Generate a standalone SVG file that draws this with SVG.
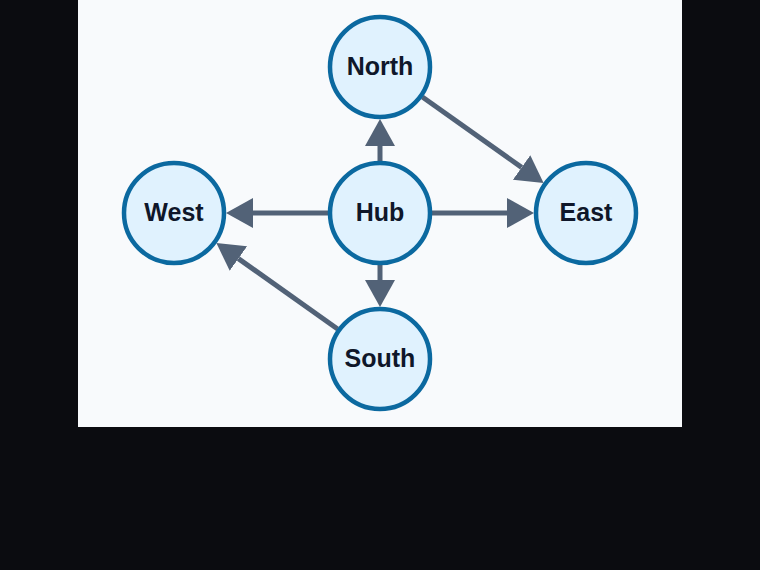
<svg xmlns="http://www.w3.org/2000/svg" width="760" height="570" viewBox="0 0 760 570">
<defs>
<style>
.node circle{fill:#e0f2fe;stroke:#0b69a0;stroke-width:4.5}
.node text{font-family:"Liberation Sans",Arial,sans-serif;font-weight:bold;font-size:25px;fill:#0f172a;text-anchor:middle;dominant-baseline:central}
.edge{stroke:#526277;stroke-width:5;fill:none;marker-end:url(#arrow)}
</style>
<marker id="arrow" markerUnits="userSpaceOnUse" markerWidth="30" markerHeight="32" refX="0" refY="15" orient="auto">
<path d="M0,0 L27,15 L0,30 z" fill="#526277"/>
</marker>
</defs>
<rect x="0" y="0" width="760" height="570" fill="#0b0c10"/>
<rect x="78" y="0" width="604" height="427" fill="#f8fafc"/>
<g id="connectors">
<line class="edge" x1="380" y1="161" x2="380" y2="146"/>
<line class="edge" x1="380" y1="265" x2="380" y2="280"/>
<line class="edge" x1="328" y1="213" x2="253" y2="213"/>
<line class="edge" x1="432" y1="213" x2="507" y2="213"/>
<line class="edge" x1="422.4" y1="97" x2="521.6" y2="167.4"/>
<line class="edge" x1="337.6" y1="329" x2="238.4" y2="258.6"/>
</g>
<g id="north" class="node"><circle cx="380" cy="67" r="50"/><text x="380" y="66">North</text></g>
<g id="hub" class="node"><circle cx="380" cy="213" r="50"/><text x="380" y="212">Hub</text></g>
<g id="west" class="node"><circle cx="174" cy="213" r="50"/><text x="174" y="212">West</text></g>
<g id="east" class="node"><circle cx="586" cy="213" r="50"/><text x="586" y="212">East</text></g>
<g id="south" class="node"><circle cx="380" cy="359" r="50"/><text x="380" y="358">South</text></g>
</svg>
